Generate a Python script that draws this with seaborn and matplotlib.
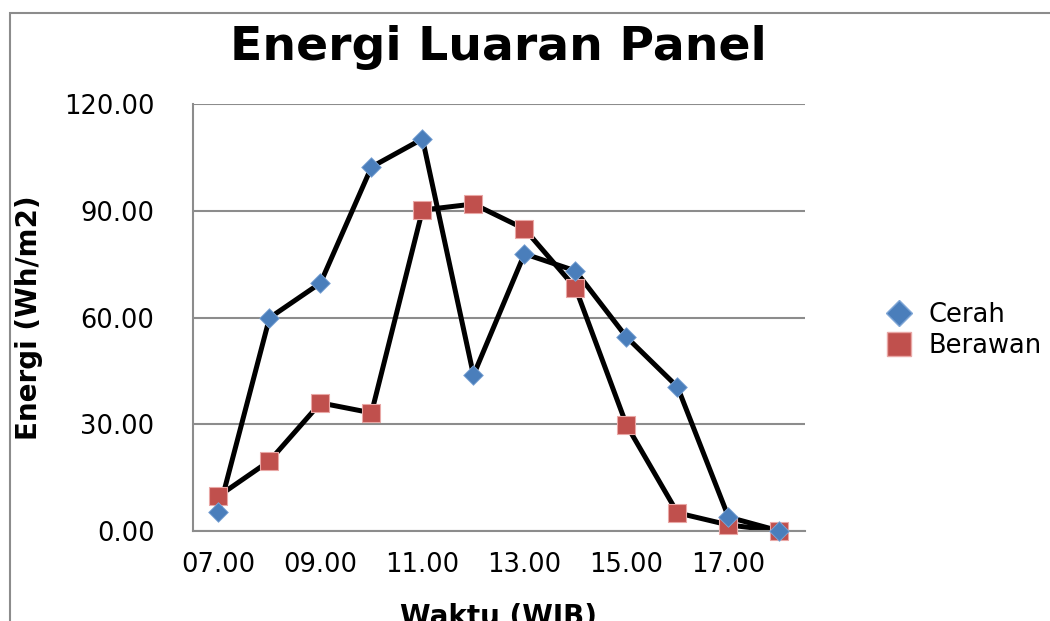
import matplotlib
matplotlib.use("Agg")
import matplotlib.pyplot as plt
import matplotlib.patches as mpatches
from matplotlib.lines import Line2D
import seaborn as sns
import pandas as pd

hours = [7, 8, 9, 10, 11, 12, 13, 14, 15, 16, 17, 18]
cerah = [5.3, 59.9, 69.7, 102.3, 110.2, 43.8, 77.9, 73.1, 54.5, 40.5, 3.9, 0.0]
berawan = [9.8, 19.7, 36.0, 33.2, 90.2, 91.9, 84.9, 68.3, 29.8, 5.1, 1.7, 0.0]
tick_hours = [7, 9, 11, 13, 15, 17]
tick_labels = ["07.00", "09.00", "11.00", "13.00", "15.00", "17.00"]
y_ticks = [0, 30, 60, 90, 120]
series_names = ["Cerah", "Berawan"]

df = pd.DataFrame({
    "x": hours + hours,
    "y": cerah + berawan,
    "series": ["Cerah"] * len(hours) + ["Berawan"] * len(hours),
})

sns.set_theme(style="white")
plt.rcParams['font.family'] = ['DejaVu Sans']
plt.rcParams['text.color'] = 'black'
plt.rcParams['axes.labelcolor'] = 'black'
plt.rcParams['xtick.color'] = 'black'
plt.rcParams['ytick.color'] = 'black'

BLUE = "#4A7EBB"
RED = "#C0504D"
GREY = "#8C8C8C"

fig = plt.figure(figsize=(10.5, 6.21), dpi=100)
ax = fig.add_axes([193/1050, 1-531/621, (805-193)/1050, (531-104)/621])

sns.lineplot(data=df, x="x", y="y", hue="series", units="series", estimator=None,
             palette={"Cerah": "black", "Berawan": "black"}, linewidth=3.6,
             legend=False, ax=ax, zorder=2, sort=False)
sns.scatterplot(data=df[df.series == "Berawan"], x="x", y="y", marker="s", s=185,
                color=RED, edgecolor="#E9A8A6", linewidth=0.8, legend=False,
                ax=ax, zorder=3, clip_on=False)
sns.scatterplot(data=df[df.series == "Cerah"], x="x", y="y", marker="D", s=100,
                color=BLUE, edgecolor="#7FA6D6", linewidth=0.6, legend=False,
                ax=ax, zorder=4, clip_on=False)

ax.set_xlim(6.5, 18.5)
ax.set_ylim(0, 120)
ax.set_xticks(tick_hours)
ax.set_xticklabels(tick_labels)
ax.set_yticks(y_ticks)
ax.set_yticklabels([f"{v:.2f}" for v in y_ticks])
ax.tick_params(axis="x", length=0, pad=15, labelsize=18.5, labelcolor="black")
ax.tick_params(axis="y", length=5.8, width=1.5, color=GREY, direction="out",
               pad=22, labelsize=18.5, labelcolor="black")
ax.yaxis.grid(True, color=GREY, linewidth=1.5)
ax.xaxis.grid(False)
for side in ["top", "right"]:
    ax.spines[side].set_visible(False)
for side in ["left", "bottom"]:
    ax.spines[side].set_color(GREY)
    ax.spines[side].set_linewidth(1.5)

ax.set_xlabel("Waktu (WIB)", fontsize=20, fontweight="bold", labelpad=18, color="black")
ax.set_ylabel("Energi (Wh/m2)", fontsize=20, fontweight="bold", labelpad=15, color="black")

fig.text(498/1050, 1-60/621, "Energi Luaran Panel", ha="center", va="baseline",
         fontsize=34, fontweight="bold", color="black")

handles = [
    Line2D([], [], marker="D", linestyle="none", color=BLUE, markersize=10,
           markeredgecolor="#7FA6D6"),
    Line2D([], [], marker="s", linestyle="none", color=RED, markersize=13.6,
           markeredgecolor="#E9A8A6"),
]
leg = fig.legend(handles, series_names, loc="center left",
                 bbox_to_anchor=(883.6/1050, 1-330.5/621), frameon=False,
                 fontsize=18.5, handlelength=1.2, handletextpad=0.53,
                 labelspacing=0.2, borderpad=0, borderaxespad=0, markerscale=1.3)
for t in leg.get_texts():
    t.set_color("black")

border = mpatches.Rectangle((9.5/1050, -0.1), 1.2, 1-12.5/621 + 0.1,
                            transform=fig.transFigure, fill=False,
                            edgecolor=GREY, linewidth=1.5, zorder=0)
fig.patches.append(border)

fig.savefig("out.png", dpi=100)
